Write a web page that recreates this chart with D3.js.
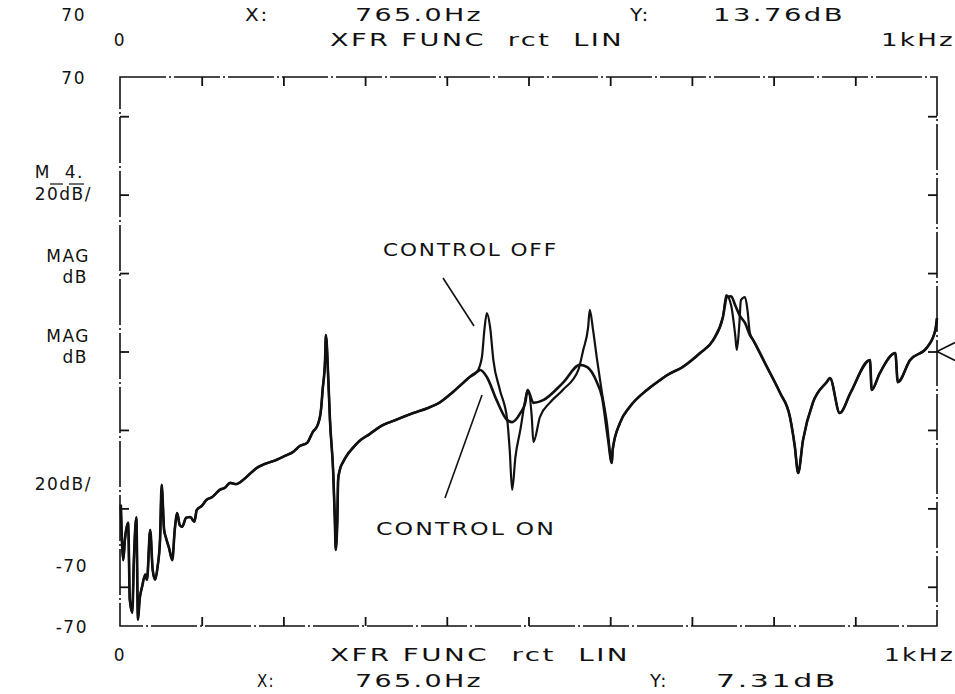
<!DOCTYPE html>
<html lang="en">
<head>
<meta charset="UTF-8">
<title>XFR FUNC rct LIN</title>
<script src="https://d3js.org/d3.v7.min.js"></script>
<style>
  body { margin: 0; background: #fff; }
  svg text { font-family: "DejaVu Sans", sans-serif; font-size: 17px; letter-spacing: 1.5px; fill: #111; white-space: pre; }
</style>
</head>
<body>
<svg width="955" height="694"></svg>
<script>
// shared low-frequency part (both traces), Hz / dB
const lowFreq = [1, 4, 6, 10, 12, 15, 17, 20, 22, 24, 27, 31, 33, 37, 40, 43, 46, 49, 51, 54, 56, 60, 64, 67, 70, 73, 76, 81, 86, 91, 94, 100, 106, 113, 117, 122, 128, 135, 142, 151, 159, 168, 177, 192, 202, 212, 220, 229, 236, 242, 246, 248, 251, 252, 255, 257, 261, 263, 264, 266, 267, 269, 273, 278, 285, 292, 306, 318, 337, 359, 377, 392, 406, 420, 428, 437];
const lowMag  = [-39.1, -53.2, -48, -43.7, -63.3, -66.6, -53.2, -42.3, -68.4, -63.3, -60, -56.9, -58.2, -45.5, -55.7, -58.2, -54.9, -48, -34, -45.5, -47.3, -50.1, -53.2, -45.5, -41.2, -44.2, -44.7, -42.4, -42.2, -43.4, -40.4, -39.4, -37.8, -37.1, -36.3, -35.3, -34.8, -33.5, -33.8, -32.7, -31.2, -29.6, -28.7, -27.6, -26.6, -25.6, -24.1, -23.3, -20.5, -18.7, -14.9, -9.8, -2.2, 4.2, -7.3, -17.5, -31, -43, -50.6, -43, -32.7, -30.2, -28.2, -26.4, -24.6, -23, -21, -19.2, -17.5, -15.7, -14.4, -12.9, -10.6, -8, -6.5, -5.2];

// first two resonances, control off
const offMidFreq = [443, 446, 449, 453, 457, 465, 474, 477, 480, 484, 490, 496, 499, 504, 506, 514, 526, 542, 561, 567, 573, 575, 579, 584, 590, 596, 602];
const offMidMag  = [-1.4, 5.5, 9.8, 6.2, -2.2, -9.8, -17.5, -25.1, -35.3, -26.9, -20, -12.4, -9.8, -16.7, -23.1, -16.7, -13.1, -9.8, -4.7, 0.4, 6.2, 10.6, 5.5, -2.2, -10.6, -18.2, -28.4];

// first two resonances, control on
const onMidFreq = [441, 449, 461, 474, 480, 490, 496, 499, 506, 518, 542, 563, 572, 584, 590, 597, 602];
const onMidMag  = [-4.7, -6.5, -12.4, -17.5, -18, -15.7, -13.1, -9.8, -13.1, -12.4, -8, -3.4, -4, -8, -11.6, -21.8, -28.4];

// shared rise to the third resonance
const riseFreq = [603, 612, 624, 645, 661, 670, 689, 710, 726, 738];
const riseMag  = [-25.1, -18.2, -14.1, -9.8, -7.3, -6, -3.9, -0.4, 2.9, 8.8];

// third resonance
const offPeakFreq = [742, 748, 753, 755, 758, 760, 765, 768, 771];
const offPeakMag  = [14.4, 11.8, 4.2, 0.4, 6.8, 13.1, 13.9, 10.6, 4.7];
const onPeakFreq  = [743, 748, 753, 759, 765, 771];
const onPeakMag   = [13.9, 14.1, 11.8, 9, 7.3, 4.2];

// shared high-frequency part
const highFreq = [775, 792, 808, 820, 826, 830, 836, 848, 865, 869, 881, 894, 918, 920, 930, 949, 952, 967, 988, 998, 1000];
const highMag  = [2.9, -4, -10.6, -16.7, -24.3, -31, -22.6, -13.1, -7.8, -6.8, -15.7, -10.6, -2.2, -9.8, -5.5, -0.4, -7.8, -2.2, 1.1, 5.5, 8.5];

const xTicks = [0, 100, 200, 300, 400, 500, 600, 700, 800, 900, 1000];
const yTicks = [60, 40, 20, 0, -20, -40, -60];

const svg = d3.select("svg");
const margin = { top: 77, right: 18, bottom: 68, left: 120 };
const width = +svg.attr("width");
const height = +svg.attr("height");

const x = d3.scaleLinear().domain([0, 1000]).range([margin.left, width - margin.right]);
const y = d3.scaleLinear().domain([-70, 70]).range([height - margin.bottom, margin.top]);

const zip = (f, m) => f.map((v, i) => [v, m[i]]);
const offData = [].concat(zip(lowFreq, lowMag), zip(offMidFreq, offMidMag), zip(riseFreq, riseMag), zip(offPeakFreq, offPeakMag), zip(highFreq, highMag));
const onData  = [].concat(zip(lowFreq, lowMag), zip(onMidFreq, onMidMag), zip(riseFreq, riseMag), zip(onPeakFreq, onPeakMag), zip(highFreq, highMag));

// frame
svg.append("rect")
  .attr("x", x(0)).attr("y", y(70))
  .attr("width", x(1000) - x(0)).attr("height", y(-70) - y(70))
  .attr("fill", "none").attr("stroke", "#111").attr("stroke-width", 1.6)
  .attr("stroke-dasharray", "46,3,2,3");

// ticks, pointing inwards
const tick = 9;
svg.append("g").attr("transform", `translate(0,${y(70)})`)
  .call(d3.axisTop(x).tickValues(xTicks.slice(1, -1)).tickSize(-tick).tickFormat(""));
svg.append("g").attr("transform", `translate(0,${y(-70)})`)
  .call(d3.axisBottom(x).tickValues(xTicks.slice(1, -1)).tickSize(-tick).tickFormat(""));
svg.append("g").attr("transform", `translate(${x(0)},0)`)
  .call(d3.axisLeft(y).tickValues(yTicks).tickSize(-tick).tickFormat(""));
svg.append("g").attr("transform", `translate(${x(1000)},0)`)
  .call(d3.axisRight(y).tickValues(yTicks).tickSize(-tick).tickFormat(""));
svg.selectAll(".domain").remove();
svg.selectAll(".tick line").attr("stroke", "#111").attr("stroke-width", 1.8);

// traces
const line = d3.line().x(d => x(d[0])).y(d => y(d[1])).curve(d3.curveMonotoneX);
svg.append("path").datum(onData)
  .attr("d", line).attr("fill", "none").attr("stroke", "#111")
  .attr("stroke-width", 2.6).attr("stroke-linejoin", "round");
svg.append("path").datum(offData)
  .attr("d", line).attr("fill", "none").attr("stroke", "#111")
  .attr("stroke-width", 2.2).attr("stroke-linejoin", "round");

// reference marker on the right edge
svg.append("path")
  .attr("d", `M${x(1000) + 18},${y(0) - 9} L${x(1000)},${y(0)} L${x(1000) + 18},${y(0) + 9}`)
  .attr("fill", "none").attr("stroke", "#111").attr("stroke-width", 1.6);

// header / footer readouts
const label = (tx, ty, s, anchor, len) => {
  const t = svg.append("text").attr("x", tx).attr("y", ty).attr("text-anchor", anchor || "start").text(s);
  if (len) t.attr("textLength", len).attr("lengthAdjust", "spacingAndGlyphs");
  return t;
};

// annotation
label(383, 256, "CONTROL OFF", "start", 175);
svg.append("line").attr("x1", 443).attr("y1", 278).attr("x2", 474).attr("y2", 326)
  .attr("stroke", "#111").attr("stroke-width", 1.6);
label(376, 535, "CONTROL ON", "start", 180);
svg.append("line").attr("x1", 482).attr("y1", 395).attr("x2", 445).attr("y2", 498)
  .attr("stroke", "#111").attr("stroke-width", 1.6);

label(86, 21, "70", "end");
label(245, 21, "X:", "start", 24);
label(355, 21, "765.0Hz", "start", 128);
label(630, 21, "Y:", "start", 20);
label(713, 21, "13.76dB", "start", 132);
label(x(0), 46, "0", "middle");
label(330, 46, "XFR FUNC  rct  LIN", "start", 294);
label(881, 46, "1kHz", "start", 74);

label(x(0), 661, "0", "middle");
label(330, 661, "XFR FUNC  rct  LIN", "start", 300);
label(884, 661, "1kHz", "start", 71);
label(257, 687, "X:", "start", 18);
label(355, 687, "765.0Hz", "start", 128);
label(650, 687, "Y:", "start", 18);
label(716, 687, "7.31dB", "start", 122);

// left-side scale labels of the two overlaid traces
label(86, y(70) + 7, "70", "end");
label(84, 178, "M  4.", "end");
svg.append("line").attr("x1", 50).attr("y1", 184).attr("x2", 63).attr("y2", 184).attr("stroke", "#111").attr("stroke-width", 1.2);
svg.append("line").attr("x1", 69).attr("y1", 184).attr("x2", 84).attr("y2", 184).attr("stroke", "#111").attr("stroke-width", 1.2);
label(92, 200, "20dB/", "end");
label(90, 262, "MAG", "end");
label(88, 283, "dB", "end");
label(90, 342, "MAG", "end");
label(88, 363, "dB", "end");
label(92, 490, "20dB/", "end");
label(88, 572, "-70", "end");
label(88, y(-70) + 7, "-70", "end");
</script>
</body>
</html>
